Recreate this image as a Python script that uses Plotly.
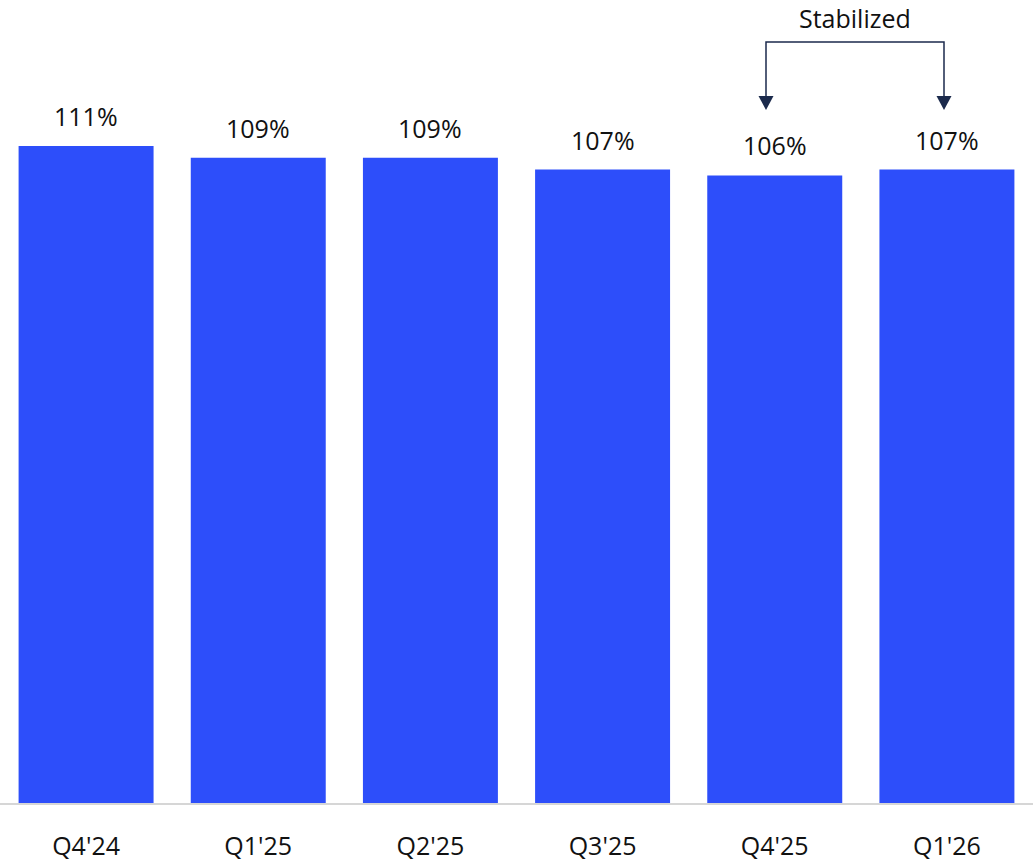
import plotly.graph_objects as go

quarters = ["Q4'24", "Q1'25", "Q2'25", "Q3'25", "Q4'25", "Q1'26"]
ratio_pct = [111, 109, 109, 107, 106, 107]
bracket_note = "Stabilized"

BAR_COLOR = "#2D4EFA"
NAVY = "#1B2A4C"
FONT = "Open Sans"
FSIZE = 25

W, H = 1033, 862
PLOT_H = 803  # pixel height of the plotting area (top margin 0)

fig = go.Figure(
    go.Bar(
        x=quarters,
        y=ratio_pct,
        marker=dict(color=BAR_COLOR, line=dict(width=0)),
        hoverinfo="skip",
    )
)

# value labels above each bar
for q, v in zip(quarters, ratio_pct):
    fig.add_annotation(
        x=q, y=v, text=f"{v}%", showarrow=False,
        xanchor="center", yanchor="bottom", yshift=11,
        font=dict(family=FONT, size=FSIZE, color="#111111"),
    )

# bracket linking the last two quarters
def px_x(p):
    return p / W

def px_y(p):
    return 1 - p / PLOT_H

left, right, top, base, tip, half = 766, 944, 42, 96, 110, 7.5
fig.add_shape(
    type="path", xref="paper", yref="paper",
    path=(f"M {px_x(left)},{px_y(base)} L {px_x(left)},{px_y(top)} "
          f"L {px_x(right)},{px_y(top)} L {px_x(right)},{px_y(base)}"),
    line=dict(color=NAVY, width=1.5),
)
for cx in (left, right):
    fig.add_shape(
        type="path", xref="paper", yref="paper",
        path=(f"M {px_x(cx - half)},{px_y(base)} L {px_x(cx + half)},{px_y(base)} "
              f"L {px_x(cx)},{px_y(tip)} Z"),
        fillcolor=NAVY, line=dict(color=NAVY, width=0),
    )
fig.add_annotation(
    x=px_x(855), y=px_y(0), xref="paper", yref="paper",
    text=bracket_note, showarrow=False, xanchor="center", yanchor="top",
    borderpad=0,
    font=dict(family=FONT, size=FSIZE, color="#111111"),
)

fig.update_layout(
    width=W, height=H,
    margin=dict(l=0, r=0, t=0, b=H - PLOT_H),
    paper_bgcolor="white", plot_bgcolor="white",
    bargap=0.216,
    showlegend=False,
    xaxis=dict(
        range=[-0.5, 5.5], showgrid=False, showline=True,
        linecolor="#D6D6D6", linewidth=1.5, ticks="",
        tickfont=dict(family=FONT, size=FSIZE, color="#111111"),
        ticklabelstandoff=20, automargin=False,
    ),
    yaxis=dict(range=[0, PLOT_H / 5.92], visible=False, showgrid=False,
               automargin=False),
)

fig.write_html("out.html")
